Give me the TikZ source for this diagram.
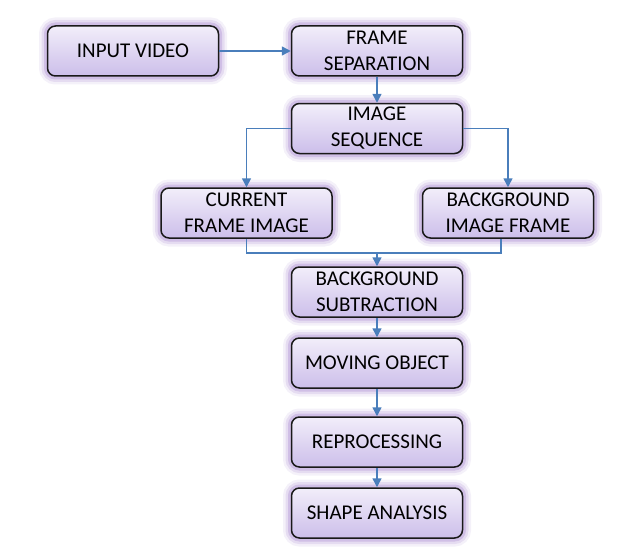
\documentclass[tikz,border=0pt]{standalone}
\usepackage{fontspec}
\setmainfont{Carlito}
\usetikzlibrary{arrows.meta}
\definecolor{glow}{HTML}{A888D0}
\definecolor{boxtop}{HTML}{F2EEFA}
\definecolor{boxbot}{HTML}{CCBEEA}
\definecolor{arrowc}{HTML}{4A7EBB}
\tikzset{
  box/.style={rounded corners=8pt, draw=black!90, line width=1.5pt,
    top color=boxtop, bottom color=boxbot,
    minimum width=171pt, minimum height=50pt, align=center, inner sep=0pt,
    font=\fontsize{21}{26}\selectfont,
    preaction={draw=glow, line width=17pt, draw opacity=0.12},
    preaction={draw=glow, line width=12pt, draw opacity=0.2},
    preaction={draw=glow, line width=7pt, draw opacity=0.35}},
  conn/.style={draw=arrowc, line width=1.5pt},
  arr/.style={conn, -{Triangle[length=9pt,width=9pt]}}
}
\begin{document}
\begin{tikzpicture}[x=1pt,y=-1pt]
\useasboundingbox (0,0) rectangle (640,551);
\node[box] (iv) at (133,51) {INPUT VIDEO};
\node[box] (fs) at (377,51) {FRAME\\SEPARATION};
\node[box] (is) at (377,128.5) {IMAGE\\SEQUENCE};
\node[box] (cf) at (246.5,213) {CURRENT\\FRAME IMAGE};
\node[box] (bf) at (508,213) {BACKGROUND\\IMAGE FRAME};
\node[box] (bs) at (377,292) {BACKGROUND\\SUBTRACTION};
\node[box] (mo) at (377,363) {MOVING OBJECT};
\node[box] (rp) at (377,442) {REPROCESSING};
\node[box] (sa) at (377,513) {SHAPE ANALYSIS};
\coordinate (mL) at (246.5,253);
\coordinate (mR) at (501,253);
\coordinate (mC) at (377,253);
\draw[arr] (iv.east) -- (fs.west);
\draw[arr] (fs.south) -- (is.north);
\draw[arr] (is.west) -| (cf.north);
\draw[arr] (is.east) -| (bf.north);
\draw[conn] (cf.south) -- (mL) -- (mR) -- (mR |- bf.south);
\draw[arr] (mC) -- (bs.north);
\draw[arr] (bs.south) -- (mo.north);
\draw[arr] (mo.south) -- (rp.north);
\draw[arr] (rp.south) -- (sa.north);
\end{tikzpicture}
\end{document}
